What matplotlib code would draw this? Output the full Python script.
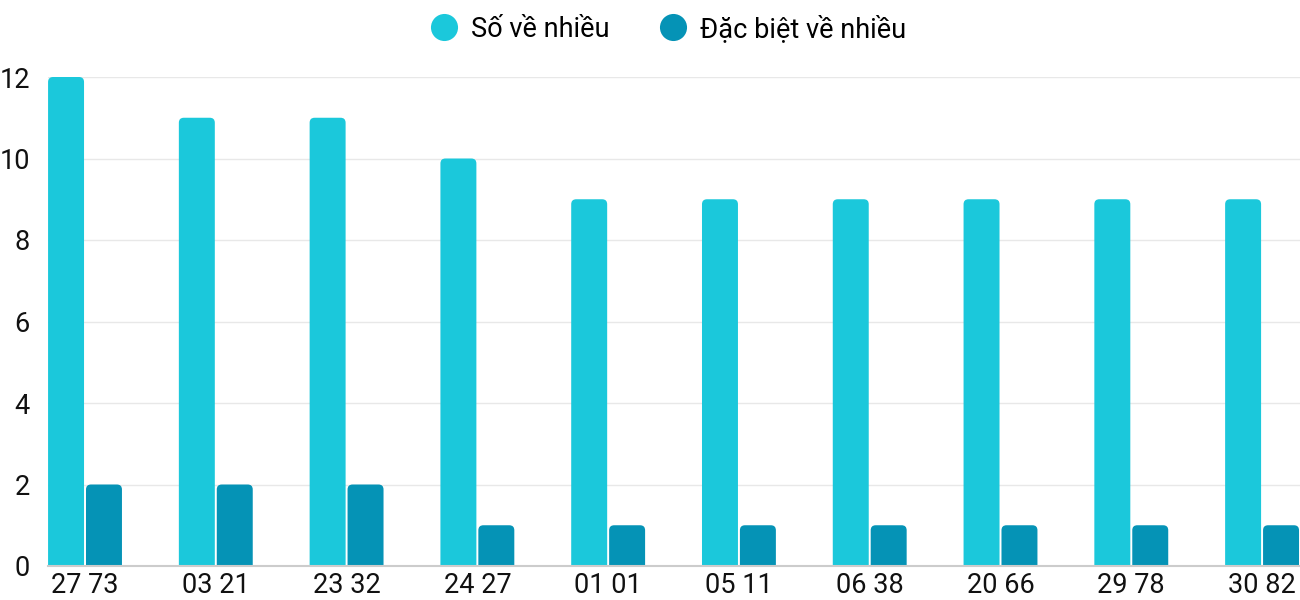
import numpy as np
import matplotlib.pyplot as plt
from matplotlib.patches import FancyBboxPatch
from matplotlib.lines import Line2D

plt.rcParams["font.family"] = ["Roboto", "DejaVu Sans"]

# ── data ────────────────────────────────────────────────────────────────────
pairs      = ["27 73", "03 21", "23 32", "24 27", "01 01",
              "05 11", "06 38", "20 66", "29 78", "30 82"]
so_ve      = [12, 11, 11, 10, 9, 9, 9, 9, 9, 9]
dac_biet   = [2, 2, 2, 1, 1, 1, 1, 1, 1, 1]
series     = ["Số về nhiều", "Đặc biệt về nhiều"]
yticks     = [0, 2, 4, 6, 8, 10, 12]

LIGHT = "#1bc8db"
DARK  = "#0593b6"

W, H, DPI = 1300, 600, 100
fig = plt.figure(figsize=(W / DPI, H / DPI), dpi=DPI)
ax = fig.add_axes([48 / W, (H - 566) / H, (W - 48) / W, (566 - 77) / H])

x = np.arange(len(pairs))
bar_w = 0.275
offset = 0.145
ax.set_xlim(-0.283, len(pairs) - 1 + 0.29)
ax.set_ylim(0, 12)

# pixel -> data scale, for rounded corners
px_x = (ax.get_xlim()[1] - ax.get_xlim()[0]) / (W - 48)
px_y = (ax.get_ylim()[1] - ax.get_ylim()[0]) / (566 - 77)
r_px = 5
aspect = px_y / px_x


def rounded_bars(xs, heights, color):
    for xc, h in zip(xs, heights):
        p = FancyBboxPatch(
            (xc - bar_w / 2 + r_px * px_x, -1.0),
            bar_w - 2 * r_px * px_x, h + 1.0 - r_px * px_y,
            boxstyle=f"round,pad={r_px * px_x},rounding_size={r_px * px_x}",
            mutation_aspect=aspect,
            facecolor=color, edgecolor="none", zorder=3,
        )
        p.set_clip_path(ax.patch)
        ax.add_patch(p)


rounded_bars(x - offset, so_ve, LIGHT)
rounded_bars(x + offset, dac_biet, DARK)

# grid and axes styling
for yv in yticks[1:]:
    ax.axhline(yv, color="#e8e8e8", lw=1, zorder=1)
ax.axhline(0, color="#cccccc", lw=1.5, zorder=4, clip_on=False)
for s in ax.spines.values():
    s.set_visible(False)

ax.set_yticks(yticks)
ax.set_xticks(x)
ax.set_xticklabels(pairs)
ax.tick_params(axis="both", length=0, labelsize=19.5, colors="#111111")
ax.tick_params(axis="y", pad=13)
ax.tick_params(axis="x", pad=4.5)
for lbl in ax.get_yticklabels():
    lbl.set_horizontalalignment("right")

handles = [
    Line2D([], [], marker="o", ls="none", markersize=19.5,
           markerfacecolor=LIGHT, markeredgecolor="none"),
    Line2D([], [], marker="o", ls="none", markersize=19.5,
           markerfacecolor=DARK, markeredgecolor="none"),
]
fig.legend(handles, series, loc="center", bbox_to_anchor=(667 / W, 1 - 29 / H),
           ncol=2, frameon=False, fontsize=19.5, handletextpad=0.4,
           columnspacing=1.75, handlelength=1.2)

fig.savefig("out.png", dpi=DPI)
